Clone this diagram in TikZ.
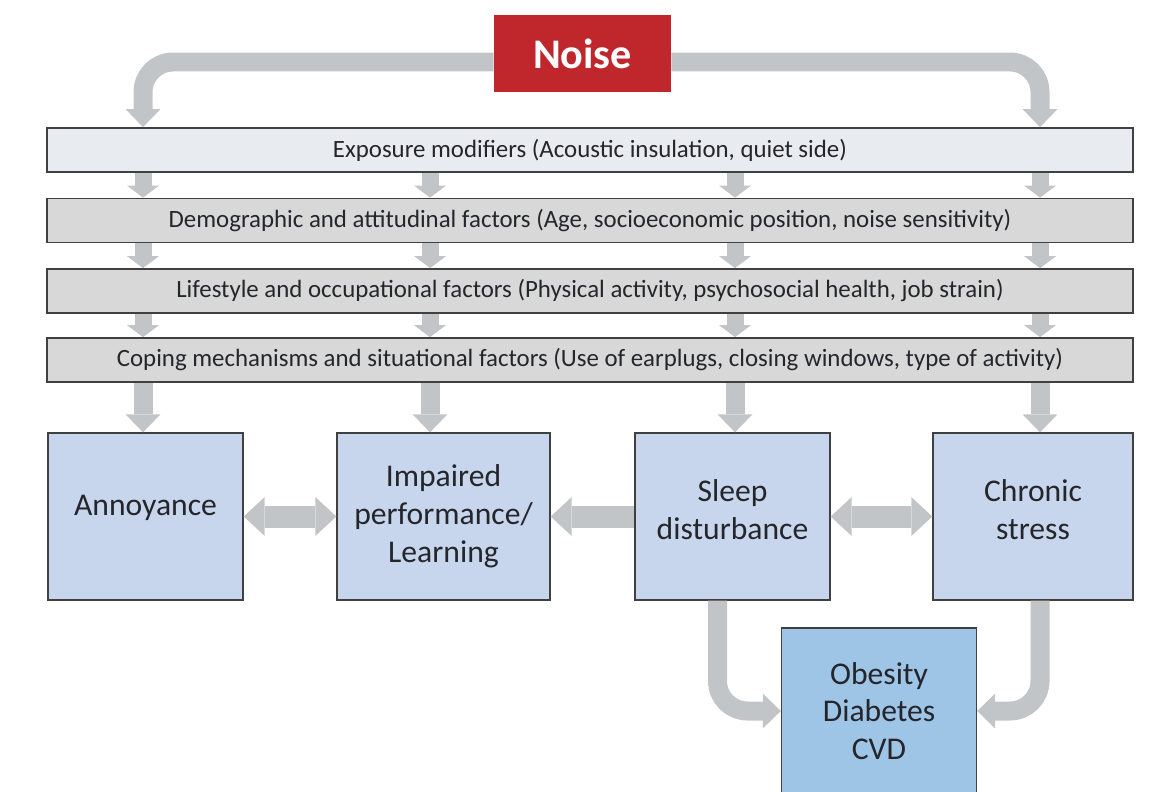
\documentclass[tikz,border=0pt]{standalone}
\usepackage{fontspec}
\setmainfont{Carlito}
\usetikzlibrary{arrows.meta,positioning}
\definecolor{noisered}{RGB}{192,39,45}
\definecolor{arrowgrey}{RGB}{193,197,200}
\definecolor{barlight}{RGB}{232,235,240}
\definecolor{bargrey}{RGB}{216,216,216}
\definecolor{boxblue}{RGB}{199,214,236}
\definecolor{outblue}{RGB}{158,196,230}
\definecolor{ink}{RGB}{36,38,44}

\begin{document}
\begin{tikzpicture} [x=0.02cm, y=-0.02cm,
    bar/.style={draw=black!75, line width=1pt, minimum width=21.72cm, minimum height=0.88cm, inner sep=0pt, text=ink, font=\fontsize{14.15}{17}\selectfont},
    effect/.style={draw=black!75, line width=0.8pt, fill=boxblue, minimum width=3.9cm, minimum height=3.34cm, inner sep=0pt, align=center, text=ink, font=\fontsize{18}{21.5}\selectfont},
    small/.style={draw=arrowgrey, line width=0.34cm, -{Triangle[width=0.64cm, length=0.24cm, line width=0pt]}},
    fat/.style={draw=arrowgrey, line width=0.38cm, -{Triangle[width=0.7cm, length=0.36cm, line width=0pt]}},
    wide/.style={draw=arrowgrey, line width=0.44cm, {Triangle[width=0.78cm, length=0.42cm, line width=0pt]}-{Triangle[width=0.78cm, length=0.42cm, line width=0pt]}}
  ]
  \clip (0,0) rectangle (1159,791);

  \node[fill=noisered, minimum width=3.54cm, minimum height=1.54cm, text=white, font=\fontsize{24}{28}\selectfont\bfseries] (noise) at (582.5,53.5) {Noise};

  \node[bar, fill=barlight] (e1) at (590,150) {Exposure modifiers (Acoustic insulation, quiet side)};
  \node[bar, fill=bargrey] (e2) at (590,220.5) {Demographic and attitudinal factors (Age, socioeconomic position, noise sensitivity)};
  \node[bar, fill=bargrey] (e3) at (590,291) {Lifestyle and occupational factors (Physical activity, psychosocial health, job strain)};
  \node[bar, fill=bargrey] (e4) at (590,360) {Coping mechanisms and situational factors (Use of earplugs, closing windows, type of activity)};

  \node[effect, text depth=0.44cm] (ann) at (145.5,516.5) {Annoyance};
  \node[effect, minimum width=4.26cm] (imp) at (443.5,516.5) {Impaired\\performance/\\Learning};
  \node[effect, text depth=0.28cm] (slp) at (732.5,516.5) {Sleep\\disturbance};
  \node[effect, text depth=0.28cm, minimum width=4cm] (chr) at (1033,516.5) {Chronic\\stress};
  \node[effect, fill=outblue, minimum height=3.32cm] (obs) at (879,711) {Obesity\\Diabetes\\CVD};

  \coordinate (c1) at (143,0);
  \coordinate (c2) at (430,0);
  \coordinate (c3) at (735,0);
  \coordinate (c4) at (1040,0);

  % Noise down to the first bar
  \path[fat, rounded corners=0.6cm]
  ([yshift=-0.17cm]noise.west) -| (c1 |- e1.north);
  \path[fat, rounded corners=0.6cm]
  ([yshift=-0.17cm]noise.east) -| (c4 |- e1.north);

  \foreach \a/\b in {e1/e2,e2/e3,e3/e4}
    \foreach \c in {c1,c2,c3,c4}
      \path[small] (\c |- \a.south) -- (\c |- \b.north);

  \foreach \c/\n in {c1/ann,c2/imp,c3/slp,c4/chr}
    \path[fat] (\c |- e4.south) -- (\c |- \n.north);

  \path[wide] (ann) -- (imp);
  \path[wide, {Triangle[width=0.78cm, length=0.42cm, line width=0pt]}-] (imp) -- (slp);
  \path[wide] (slp) -- (chr);

  \path[fat, rounded corners=0.6cm]
  ([xshift=-0.3cm]slp.south) |- (obs.west);
  \path[fat, rounded corners=0.6cm]
  (c4 |- chr.south) |- (obs.east);
\end{tikzpicture}
\end{document}
